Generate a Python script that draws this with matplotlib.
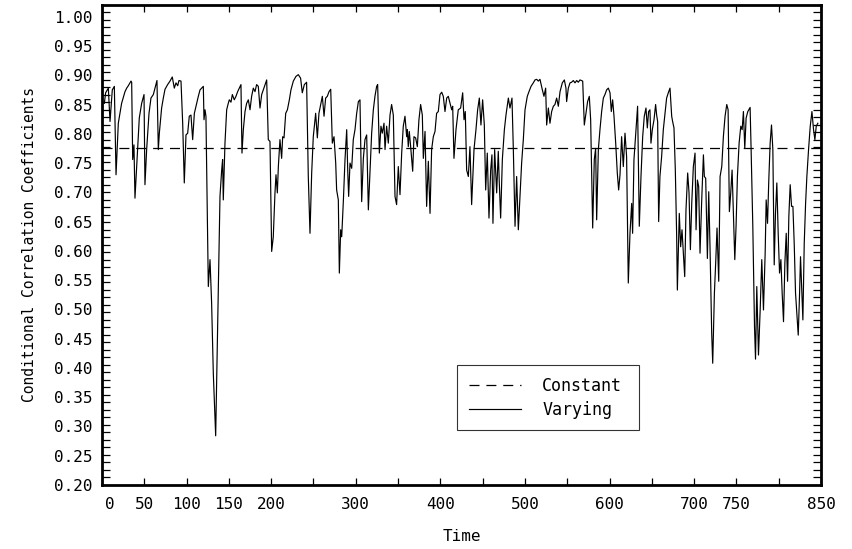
import numpy as np
import matplotlib
matplotlib.use("Agg")
import matplotlib.pyplot as plt
import matplotlib.transforms as mtransforms
from matplotlib.ticker import FixedLocator, FuncFormatter

plt.rcParams.update({"font.family": ["DejaVu Sans Mono", "DejaVu Sans"], "font.size": 11.5})

# time-varying conditional correlation (time, value)
time = [2.8, 4.3, 7.5, 9.5, 12.2, 14.6, 16.6, 19.3, 23.2, 27.2, 29.2, 31.1, 34.3, 35.1, 36.3, 37.8, 39.0, 41.8, 44.1, 46.9,
        49.7, 50.8, 52.8, 55.6, 57.9, 60.7, 62.7, 65.0, 66.6, 67.8, 70.5, 72.5, 74.5, 77.6, 80.4, 83.1, 85.5, 87.5, 89.5, 91.0,
        93.4, 95.4, 97.3, 99.3, 101.3, 103.2, 105.2, 107.2, 109.2, 111.9, 113.9, 115.9, 117.8, 119.8, 120.6, 121.8, 122.9, 125.7, 127.7, 129.6,
        131.6, 134.4, 136.7, 139.5, 141.5, 142.6, 143.4, 145.4, 147.4, 149.3, 150.5, 152.5, 154.1, 156.4, 158.4, 160.4, 162.4, 164.3, 165.5, 167.1,
        169.1, 171.0, 173.0, 175.0, 176.9, 178.9, 180.9, 182.8, 184.8, 186.8, 188.8, 190.7, 192.7, 194.7, 196.6,
        198.6, 200.6, 202.5, 204.5, 205.7, 207.3, 208.5, 210.4, 212.4, 213.6, 215.2, 217.2, 219.2, 221.5, 223.4, 226.2, 229.3, 232.1, 234.8, 236.8,
        239.2, 241.9, 243.9, 245.9, 247.9, 249.8, 252.6, 254.6, 256.5, 258.5, 260.5, 262.5, 264.4, 266.4, 268.4, 270.4, 272.3, 274.3, 276.3, 277.4,
        279.4, 280.6, 282.2, 283.4, 285.4, 287.3, 289.3, 290.5, 291.6, 293.2, 295.2, 297.1, 299.1, 301.1, 303.1, 305.0, 307.0, 309.0, 310.9, 312.9,
        314.9, 316.8, 318.8, 320.8, 322.7, 324.7, 325.9, 327.9, 329.8, 331.4, 333.4, 334.6, 336.5, 338.5, 340.5, 342.4, 344.4, 346.4, 348.3, 350.3,
        352.3, 354.3, 356.2, 358.2, 360.2, 361.0, 362.1, 363.3, 364.9, 367.3, 368.8, 370.8, 372.8, 374.7, 376.7, 378.7, 379.9, 381.9, 383.8, 385.8,
        387.8, 389.7, 391.7, 393.7, 395.6, 397.6, 399.6, 401.6, 403.5, 405.5, 407.5, 409.4,
        413.4, 414.6, 416.1, 418.5, 421.2, 424.0, 426.4, 428.0, 429.5, 431.1, 433.1, 435.0, 437.0, 439.8, 442.1, 444.1, 446.1, 448.0, 450.0, 452.0,
        453.6, 455.5, 457.5, 459.5, 461.0, 462.2, 464.2, 466.6, 468.5, 469.7, 471.3, 473.3, 475.7, 477.6, 480.4, 482.3, 484.7, 486.3, 488.3, 490.2,
        492.2, 494.2, 496.1, 498.1, 500.1, 502.8, 504.8, 507.2, 509.9, 511.9, 513.9, 515.8, 517.8, 520.6, 522.5, 524.5, 525.7, 527.7, 529.6, 531.6,
        533.6, 535.5, 537.5, 539.5, 541.5, 544.2, 546.6, 548.5, 549.3, 551.3, 553.3, 555.2, 557.2, 559.2, 561.2, 563.1, 565.1, 568.3, 570.2, 572.2,
        574.1, 576.1, 577.7, 580.1, 582.0, 583.6, 584.8, 586.8, 588.7, 590.7, 592.7, 594.6, 596.6, 598.6, 600.6, 602.1, 603.7, 605.3, 607.3, 609.2, 610.8,
        612.4, 614.3, 616.3, 618.3, 620.2, 622.2, 624.2, 626.2, 627.3, 628.9, 631.3, 633.2, 635.2, 637.2, 639.2, 641.1, 643.1, 644.7, 646.2, 647.8,
        649.0, 650.6, 652.6, 654.5, 655.7, 656.9, 658.1, 659.6, 661.6, 663.6, 665.6, 667.5, 669.5, 671.5, 673.5, 674.6, 676.2, 677.8, 679.4, 680.2,
        682.5, 684.1, 685.7, 687.3, 688.9, 690.4, 692.4, 694.0, 695.6, 697.2, 699.1, 701.1, 702.3, 703.9, 705.4, 707.0, 709.0, 711.0, 712.1, 713.7,
        715.7, 717.3, 718.8, 720.8, 722.0, 724.0, 725.5, 727.1, 729.1, 730.7, 732.7, 734.6, 736.6, 738.6, 740.2, 741.7, 743.3, 744.9, 746.5, 748.1,
        749.6, 751.2, 753.2, 755.2, 756.8, 758.3, 759.9, 761.5, 763.5, 766.2, 767.4, 769.4, 771.4, 772.6, 774.1, 776.1, 778.1, 780.0, 782.0, 784.0,
        785.2, 786.8, 788.3, 789.9, 791.5, 793.1, 794.7, 796.2, 797.8, 799.4, 801.0, 802.6, 804.1, 805.7, 807.3, 808.9, 810.5, 812.0, 813.6, 815.2,
        816.8, 818.4, 819.9, 821.5, 823.1, 824.7, 825.8, 827.4, 828.6, 830.2, 831.8, 833.3, 835.3, 837.3, 839.3, 841.2, 842.8, 844.4, 846.3]
varying = [0.852, 0.870, 0.878, 0.821, 0.875, 0.881, 0.730, 0.818, 0.852, 0.872, 0.878, 0.882, 0.890, 0.888, 0.756, 0.781, 0.690, 0.767, 0.827, 0.852,
           0.867, 0.713, 0.773, 0.835, 0.861, 0.867, 0.878, 0.891, 0.773, 0.801, 0.844, 0.861, 0.876, 0.884, 0.890, 0.897, 0.878, 0.887, 0.882, 0.891,
           0.890, 0.818, 0.716, 0.798, 0.801, 0.830, 0.832, 0.790, 0.835, 0.852, 0.864, 0.875, 0.878, 0.881, 0.824, 0.841, 0.830, 0.539, 0.585, 0.511,
           0.391, 0.284, 0.471, 0.693, 0.738, 0.756, 0.687, 0.784, 0.841, 0.852, 0.858, 0.854, 0.867, 0.858, 0.864, 0.872, 0.878, 0.884, 0.767, 0.807,
           0.838, 0.852, 0.858, 0.841, 0.864, 0.878, 0.872, 0.884, 0.881, 0.844, 0.867, 0.875, 0.884, 0.892, 0.790,
           0.787, 0.599, 0.624, 0.699, 0.730, 0.699, 0.744, 0.790, 0.758, 0.795, 0.793, 0.835, 0.841, 0.858, 0.875, 0.890, 0.898, 0.901, 0.895, 0.870,
           0.884, 0.888, 0.727, 0.630, 0.733, 0.795, 0.835, 0.793, 0.835, 0.850, 0.864, 0.830, 0.861, 0.864, 0.872, 0.876, 0.784, 0.795, 0.750, 0.704,
           0.687, 0.562, 0.636, 0.624, 0.687, 0.756, 0.807, 0.738, 0.693, 0.750, 0.741, 0.790, 0.807, 0.835, 0.855, 0.858, 0.684, 0.758, 0.790, 0.798,
           0.670, 0.733, 0.801, 0.841, 0.864, 0.881, 0.884, 0.767, 0.813, 0.801, 0.818, 0.773, 0.813, 0.784, 0.832, 0.850, 0.832, 0.693, 0.679, 0.744,
           0.696, 0.767, 0.813, 0.830, 0.795, 0.807, 0.778, 0.804, 0.778, 0.736, 0.795, 0.793, 0.778, 0.824, 0.850, 0.832, 0.758, 0.804, 0.676, 0.753,
           0.664, 0.773, 0.795, 0.804, 0.835, 0.838, 0.867, 0.871, 0.864, 0.838, 0.861, 0.864,
           0.841, 0.847, 0.758, 0.807, 0.841, 0.844, 0.870, 0.824, 0.838, 0.738, 0.727, 0.778, 0.679, 0.773, 0.807, 0.841, 0.861, 0.815, 0.858, 0.815,
           0.704, 0.767, 0.656, 0.738, 0.764, 0.647, 0.773, 0.699, 0.770, 0.716, 0.656, 0.756, 0.807, 0.832, 0.861, 0.844, 0.861, 0.773, 0.642, 0.727,
           0.636, 0.693, 0.750, 0.790, 0.841, 0.864, 0.872, 0.881, 0.887, 0.892, 0.893, 0.890, 0.893, 0.875, 0.864, 0.878, 0.815, 0.844, 0.818, 0.838,
           0.847, 0.850, 0.861, 0.847, 0.872, 0.887, 0.892, 0.878, 0.855, 0.878, 0.887, 0.888, 0.891, 0.887, 0.891, 0.888, 0.892, 0.890, 0.815, 0.835,
           0.855, 0.864, 0.824, 0.639, 0.756, 0.775, 0.653, 0.773, 0.807, 0.838, 0.861, 0.867, 0.875, 0.878, 0.870, 0.838, 0.858, 0.830, 0.784, 0.733, 0.704,
           0.730, 0.795, 0.744, 0.801, 0.761, 0.545, 0.630, 0.681, 0.630, 0.756, 0.807, 0.847, 0.642, 0.727, 0.795, 0.830, 0.844, 0.810, 0.838, 0.841,
           0.784, 0.807, 0.824, 0.850, 0.832, 0.821, 0.650, 0.727, 0.761, 0.807, 0.835, 0.861, 0.870, 0.878, 0.830, 0.821, 0.810, 0.738, 0.624, 0.533,
           0.664, 0.607, 0.636, 0.596, 0.556, 0.670, 0.733, 0.699, 0.602, 0.681, 0.744, 0.767, 0.636, 0.721, 0.710, 0.596, 0.687, 0.764, 0.727, 0.724,
           0.587, 0.701, 0.607, 0.459, 0.408, 0.528, 0.579, 0.639, 0.548, 0.727, 0.744, 0.795, 0.830, 0.850, 0.841, 0.667, 0.699, 0.738, 0.664, 0.585,
           0.642, 0.727, 0.784, 0.813, 0.807, 0.838, 0.775, 0.827, 0.838, 0.845, 0.773, 0.642, 0.471, 0.415, 0.539, 0.422, 0.499, 0.585, 0.499, 0.596,
           0.687, 0.647, 0.721, 0.784, 0.815, 0.773, 0.576, 0.664, 0.716, 0.630, 0.562, 0.585, 0.528, 0.479, 0.579, 0.630, 0.548, 0.659, 0.713, 0.676,
           0.676, 0.610, 0.528, 0.493, 0.456, 0.528, 0.590, 0.528, 0.482, 0.613, 0.681, 0.727, 0.773, 0.813, 0.838, 0.807, 0.790, 0.813, 0.818]
constant = 0.775

x_labels = ["0", "50", "100", "150", "200", "300", "400", "500", "600", "700", "750", "850"]
y_labels = ["0.20", "0.25", "0.30", "0.35", "0.40", "0.45", "0.50", "0.55", "0.60", "0.65",
            "0.70", "0.75", "0.80", "0.85", "0.90", "0.95", "1.00"]

fig = plt.figure(figsize=(8.52, 5.49), dpi=100)
ax = fig.add_axes([0.1197, 0.1166, 0.8439, 0.8743])

ax.axhline(constant, color="black", lw=0.9, linestyle=(0, (8, 5.5)), label="Constant")
ax.plot(time, varying, color="black", lw=0.85, label="Varying")

ax.set_xlim(0, 850)
ax.set_ylim(0.2, 1.02)

# x ticks every 50, only some labelled
xt = np.arange(0, 851, 50)
ax.xaxis.set_major_locator(FixedLocator(xt))
ax.xaxis.set_major_formatter(FuncFormatter(lambda v, p: str(int(round(v))) if str(int(round(v))) in x_labels else ""))
ax.tick_params(axis="x", which="major", direction="in", length=5, width=0.9, top=True, pad=9)

# y labels every .05, tick marks on a 64-division grid
ax.set_yticks([float(s) for s in y_labels])
ax.set_yticklabels(y_labels)
ax.tick_params(axis="y", which="major", length=0, pad=7)
ax.yaxis.set_minor_locator(FixedLocator(np.linspace(0.2, 1.02, 65)))
ax.tick_params(axis="y", which="minor", direction="in", length=6, width=0.9, right=True)

for s in ax.spines.values():
    s.set_linewidth(2.0)

ax.set_xlabel("Time", labelpad=12)
ax.set_ylabel("Conditional Correlation Coefficients", labelpad=12, fontsize=10.5)

# the "0" label sits a little right of the spine in the original
fig.canvas.draw()
lab0 = ax.get_xticklabels()[0]
lab0.set_transform(lab0.get_transform() + mtransforms.ScaledTranslation(8 / 100, 0, fig.dpi_scale_trans))

leg = ax.legend(loc="center", bbox_to_anchor=(0.494, 0.110, 0.253, 0.144), mode="expand",
                borderaxespad=0, frameon=True, fancybox=False, edgecolor="black", fontsize=12,
                handlelength=3.1, handletextpad=1.3, borderpad=0.7, labelspacing=0.35)
leg.get_frame().set_linewidth(0.8)

fig.savefig("out.png", dpi=100)
